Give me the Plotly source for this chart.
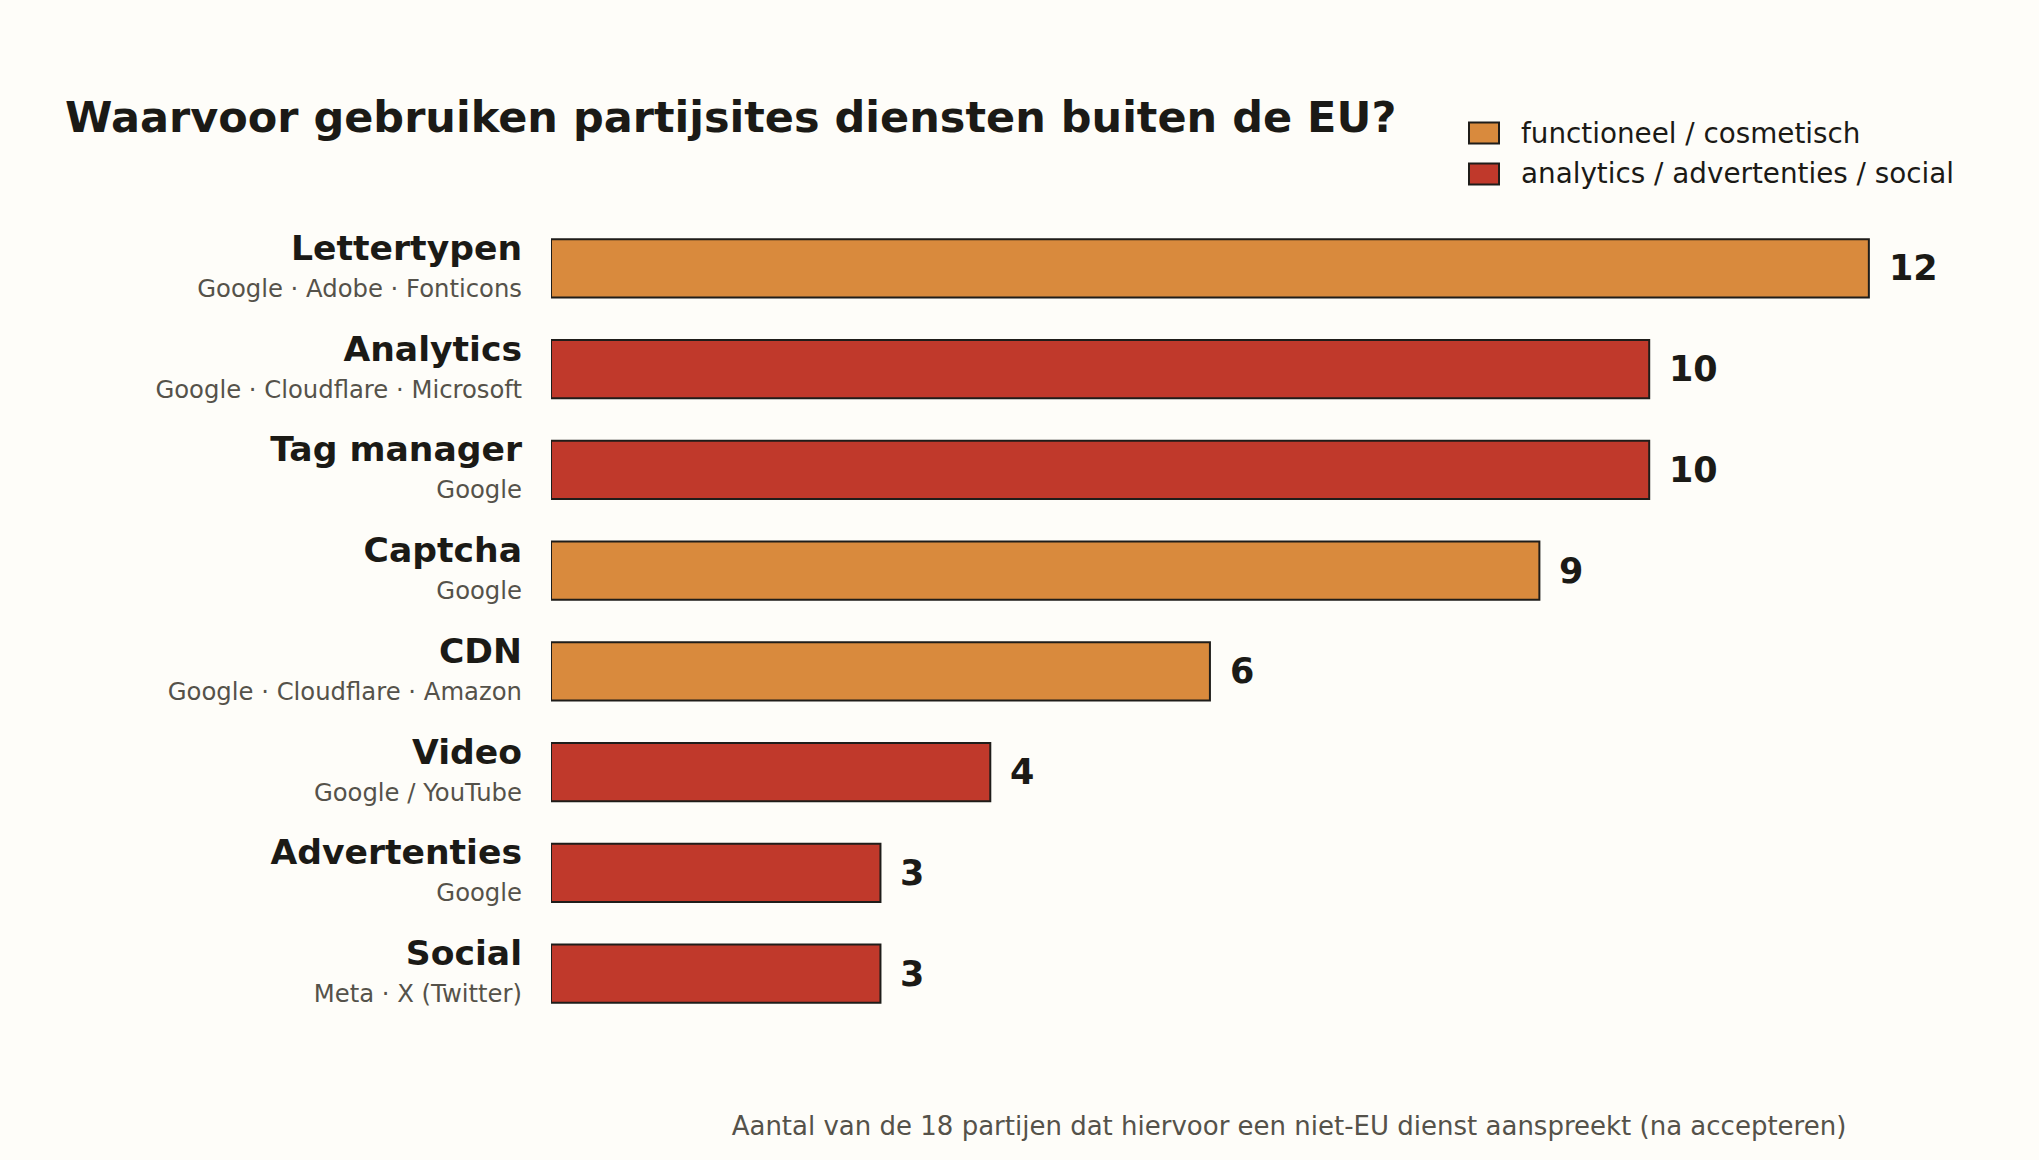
import plotly.graph_objects as go

categories = ["Lettertypen", "Analytics", "Tag manager", "Captcha", "CDN", "Video", "Advertenties", "Social"]
providers = ["Google · Adobe · Fonticons", "Google · Cloudflare · Microsoft", "Google", "Google",
             "Google · Cloudflare · Amazon", "Google / YouTube", "Google", "Meta · X (Twitter)"]
values = [12, 10, 10, 9, 6, 4, 3, 3]
kinds = ["func", "track", "track", "func", "func", "track", "track", "track"]

series_names = {"func": "functioneel / cosmetisch", "track": "analytics / advertenties / social"}
series_colors = {"func": "#D98A3D", "track": "#C0392B"}

title_text = "Waarvoor gebruiken partijsites diensten buiten de EU?"
x_title = "Aantal van de 18 partijen dat hiervoor een niet-EU dienst aanspreekt (na accepteren)"

BG = "#FEFDF9"
INK = "#1B1A16"
GREY = "#55524A"
EDGE = "#1F1D1A"
FONT = "DejaVu Sans"

ticktext = [f"<b><span style='font-size:34.6px;color:{INK}'>{c}</span></b><br>"
            f"<span style='font-size:24.3px;color:{GREY}'>{p}</span>"
            for c, p in zip(categories, providers)]

fig = go.Figure()
for key in ["func", "track"]:
    ys = [c for c, k in zip(categories, kinds) if k == key]
    xs = [v for v, k in zip(values, kinds) if k == key]
    fig.add_trace(go.Bar(
        x=xs, y=ys, orientation="h", name=series_names[key],
        marker=dict(color=series_colors[key], line=dict(color=EDGE, width=2)),
        showlegend=False, hoverinfo="x+y",
    ))

# value labels
for c, v in zip(categories, values):
    fig.add_annotation(x=v, y=c, xref="x", yref="y", text=f"<b>{v}</b>", showarrow=False,
                       xanchor="left", yanchor="middle", xshift=18,
                       font=dict(family=FONT, size=35, color=INK))

# custom legend
leg_items = [("func", 133), ("track", 174)]
W, H = 2039, 1160
for key, yc in leg_items:
    fig.add_shape(type="rect", xref="paper", yref="paper",
                  x0=(1469 - 551) / 1476, x1=(1499 - 551) / 1476,
                  y0=(1024 - (yc + 10.5)) / 806, y1=(1024 - (yc - 10.5)) / 806,
                  fillcolor=series_colors[key], line=dict(color=EDGE, width=2))
    fig.add_annotation(x=(1519 - 551) / 1476, y=(1024 - yc) / 806, xref="paper", yref="paper",
                       text=series_names[key], showarrow=False, xanchor="left", yanchor="middle",
                       font=dict(family=FONT, size=27.8, color=INK))

fig.update_layout(
    width=W, height=H,
    paper_bgcolor=BG, plot_bgcolor=BG,
    margin=dict(l=551, r=12, t=218, b=136),
    barmode="relative", bargap=0.42,
    font=dict(family=FONT, color=INK),
    title=dict(text=f"<b>{title_text}</b>", x=65 / W, xanchor="left", xref="container",
               y=1 - 117 / H, yanchor="middle", font=dict(family=FONT, size=43, color=INK)),
    xaxis=dict(range=[0, 13.44], showgrid=False, zeroline=False, showline=False,
               showticklabels=False, ticks="",
               title=dict(text=x_title, font=dict(family=FONT, size=26, color=GREY), standoff=92)),
    yaxis=dict(categoryorder="array", categoryarray=categories, autorange="reversed",
               tickmode="array", tickvals=categories, ticktext=ticktext,
               tickfont=dict(family=FONT, size=28.5, color=INK),
               showgrid=False, zeroline=False, showline=False, ticks="",
               ticklabelstandoff=28),
)

fig.write_html("out.html")
